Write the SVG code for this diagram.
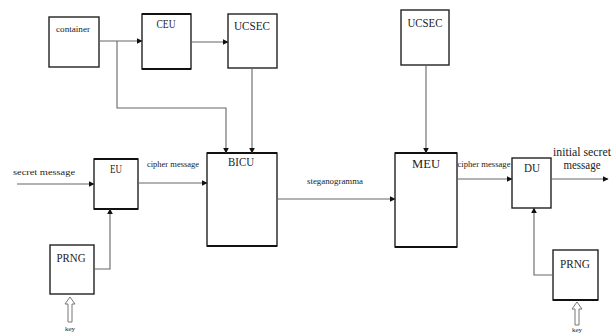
<svg xmlns="http://www.w3.org/2000/svg" width="613" height="334" viewBox="0 0 613 334">
<style>
.box{fill:#fff;stroke:#222;stroke-width:1.4}
.thick{stroke:#111;stroke-width:2.2}
.ln{fill:none;stroke:#666;stroke-width:1.1}
.t{font-family:"Liberation Serif",serif;fill:#222;text-anchor:middle}
.s{font-size:9px}
.k{font-size:7px}
.m{font-size:12px}
.hollow{fill:#fff;stroke:#777;stroke-width:1}
</style>
<defs>
<marker id="ah" viewBox="0 0 10 10" refX="9" refY="5" markerWidth="6" markerHeight="6" orient="auto" markerUnits="userSpaceOnUse">
<path d="M0,0 L10,5 L0,10 z" fill="#111"/>
</marker>
</defs>
<rect width="613" height="334" fill="#fff"/>

<g id="container"><rect class="box" x="49" y="17" width="50" height="50"/><text class="t s" x="73" y="32" textLength="34" lengthAdjust="spacingAndGlyphs">container</text></g>
<g id="ceu"><rect class="box" x="142" y="14" width="49" height="55"/><line class="thick" x1="142" y1="14" x2="191" y2="14"/><line class="thick" x1="142" y1="69" x2="191" y2="69"/><text class="t m" x="166" y="28" textLength="19" lengthAdjust="spacingAndGlyphs">CEU</text></g>
<g id="ucsec1"><rect class="box" x="228" y="14" width="49" height="54"/><text class="t m" x="252" y="30" textLength="36" lengthAdjust="spacingAndGlyphs">UCSEC</text></g>
<g id="bicu"><rect class="box" x="207" y="153" width="70" height="93"/><line class="thick" x1="207" y1="153" x2="277" y2="153"/><line class="thick" x1="207" y1="246" x2="277" y2="246"/><text class="t m" x="241" y="166" textLength="26" lengthAdjust="spacingAndGlyphs">BICU</text></g>
<g id="eu"><rect class="box" x="94" y="159" width="44" height="50"/><line class="thick" x1="94" y1="159" x2="138" y2="159"/><line class="thick" x1="94" y1="209" x2="138" y2="209"/><text class="t m" x="116" y="173" textLength="12" lengthAdjust="spacingAndGlyphs">EU</text></g>
<g id="prng1"><rect class="box" x="50" y="245" width="44" height="49"/><text class="t m" x="71" y="262" textLength="29" lengthAdjust="spacingAndGlyphs">PRNG</text></g>
<g id="ucsec2"><rect class="box" x="401" y="10" width="48" height="55"/><text class="t m" x="425" y="27" textLength="35" lengthAdjust="spacingAndGlyphs">UCSEC</text></g>
<g id="meu"><rect class="box" x="395" y="153" width="62" height="94"/><line class="thick" x1="395" y1="153" x2="457" y2="153"/><line class="thick" x1="395" y1="247" x2="457" y2="247"/><text class="t m" x="426" y="168" textLength="28" lengthAdjust="spacingAndGlyphs">MEU</text></g>
<g id="du"><rect class="box" x="512" y="158" width="39" height="50"/><text class="t m" x="532" y="172" textLength="16" lengthAdjust="spacingAndGlyphs">DU</text></g>
<g id="prng2"><rect class="box" x="553" y="250" width="45" height="50"/><line class="thick" x1="553" y1="300" x2="598" y2="300"/><text class="t m" x="575" y="268" textLength="30" lengthAdjust="spacingAndGlyphs">PRNG</text></g>

<g id="connectors">
<line class="ln" x1="99" y1="41" x2="142" y2="41" marker-end="url(#ah)"/>
<line class="ln" x1="191" y1="42" x2="228" y2="42" marker-end="url(#ah)"/>
<polyline class="ln" points="117,41 117,108 226,108 226,153" marker-end="url(#ah)"/>
<line class="ln" x1="252" y1="68" x2="252" y2="153" marker-end="url(#ah)"/>
<line class="ln" x1="17" y1="184" x2="94" y2="184" marker-end="url(#ah)"/>
<line class="ln" x1="138" y1="183" x2="207" y2="183" marker-end="url(#ah)"/>
<polyline class="ln" points="94,269 110,269 110,209" marker-end="url(#ah)"/>
<line class="ln" x1="277" y1="199" x2="395" y2="199" marker-end="url(#ah)"/>
<line class="ln" x1="426" y1="65" x2="426" y2="153" marker-end="url(#ah)"/>
<line class="ln" x1="457" y1="179" x2="512" y2="179" marker-end="url(#ah)"/>
<line class="ln" x1="551" y1="179" x2="608" y2="179" marker-end="url(#ah)"/>
<polyline class="ln" points="553,275 534,275 534,208" marker-end="url(#ah)"/>
<path class="hollow" d="M65,304 L70,297 L75,304 L72,304 L72,322 L68,322 L68,304 Z"/>
<path class="hollow" d="M572,309 L577,302 L582,309 L579,309 L579,325 L575,325 L575,309 Z"/>
</g>

<g id="labels">
<text class="t s" x="44" y="175" textLength="62" lengthAdjust="spacingAndGlyphs">secret message</text>
<text class="t s" x="173" y="167" textLength="52" lengthAdjust="spacingAndGlyphs">cipher message</text>
<text class="t s" x="335" y="184" textLength="56" lengthAdjust="spacingAndGlyphs">steganogramma</text>
<text class="t s" x="484" y="167" textLength="53" lengthAdjust="spacingAndGlyphs">cipher message</text>
<text class="t m" x="582" y="156" textLength="58" lengthAdjust="spacingAndGlyphs">initial secret</text>
<text class="t m" x="582" y="169" textLength="37" lengthAdjust="spacingAndGlyphs">message</text>
<text class="t k" x="70" y="331">key</text>
<text class="t k" x="577" y="332">key</text>
</g>
</svg>
